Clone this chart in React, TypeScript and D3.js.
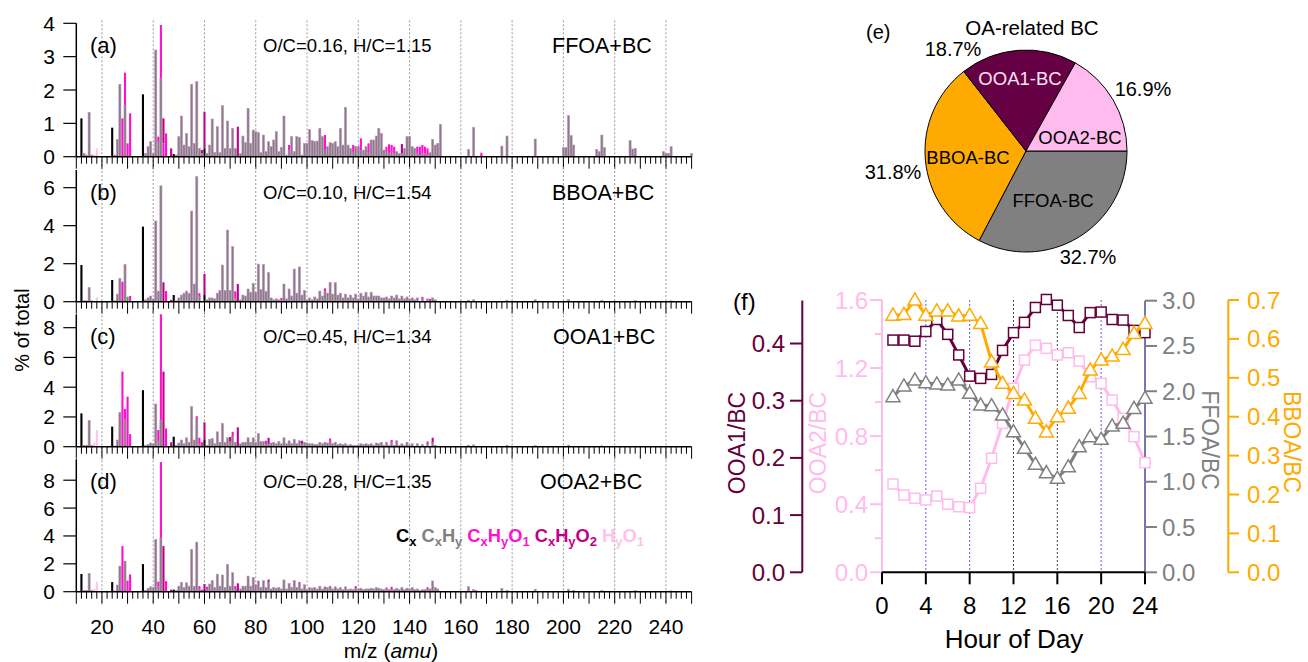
import React from 'react';
import * as d3 from 'd3';

type Pair = [number, number];

// ---------- mass spectra (% of total), [m/z, value] per ion family ----------
const FFOA_CX: Pair[] = [[12, 1.15], [24, 0.87], [36, 1.87], [48, 0.08], [60, 0.23]];
const FFOA_CXHY: Pair[] = [
  [13, 0.1], [14, 0.05], [15, 1.33], [16, 0.05], [25, 0.05], [26, 0.52], [27, 2.17], [29, 1.55], [37, 0.1], [38, 0.3],
  [39, 0.45], [40, 0.1], [41, 3.2], [42, 0.45], [43, 2.35], [49, 0.05], [50, 0.6], [51, 1.22], [52, 0.35], [53, 0.7],
  [54, 0.3], [55, 2.17], [56, 0.4], [57, 2.25], [58, 0.25], [59, 0.1], [61, 0.1], [62, 0.35], [63, 1.13], [64, 0.13],
  [65, 0.9], [66, 0.12], [67, 1.53], [68, 0.25], [69, 1.07], [70, 0.25], [71, 0.85], [72, 0.25], [74, 0.1], [75, 0.62],
  [76, 0.42], [77, 1.45], [78, 0.4], [79, 0.8], [80, 0.75], [81, 0.72], [82, 0.12], [83, 0.65], [84, 0.15], [85, 0.45],
  [86, 0.3], [87, 0.5], [88, 0.75], [89, 0.15], [90, 0.28], [91, 1.22], [92, 0.05], [93, 0.2], [94, 0.6], [95, 0.15],
  [96, 0.6], [97, 0.58], [98, 0.05], [99, 0.4], [100, 0.4], [101, 0.82], [102, 0.48], [103, 0.45], [104, 0.47], [105, 0.85],
  [106, 0.6], [107, 0.2], [108, 0.3], [109, 0.42], [110, 0.4], [111, 0.45], [112, 0.3], [113, 0.85], [114, 0.35], [115, 1.48],
  [116, 0.35], [117, 0.25], [118, 0.15], [119, 0.3], [120, 0.3], [121, 0.2], [122, 0.2], [123, 0.3], [124, 0.15], [125, 0.5],
  [126, 0.5], [127, 0.62], [128, 0.85], [129, 0.7], [130, 0.2], [131, 0.15], [132, 0.12], [133, 0.15], [134, 0.1], [135, 0.15],
  [136, 0.1], [137, 0.1], [138, 0.25], [139, 0.6], [140, 0.6], [141, 0.3], [142, 0.25], [143, 0.1], [144, 0.05], [145, 0.1],
  [146, 0.1], [147, 0.05], [148, 0.12], [149, 0.52], [150, 0.35], [151, 0.4], [152, 0.97], [163, 0.22], [165, 0.88], [176, 0.32],
  [178, 0.62], [189, 0.53], [200, 0.27], [201, 0.27], [202, 1.23], [203, 0.63], [204, 0.35], [213, 0.22], [214, 0.15], [215, 0.65],
  [216, 0.27], [226, 0.48], [227, 0.23], [228, 0.25], [239, 0.15], [240, 0.1], [241, 0.1], [242, 0.3], [250, 0.1],
];
const FFOA_O1: Pair[] = [
  [28, 1.15], [29, 0.97], [30, 0.4], [31, 1.3], [42, 0.15], [43, 1.6], [44, 0.4], [45, 0.7], [93, 0.15], [107, 0.45],
  [118, 0.2], [121, 0.35], [124, 0.25], [131, 0.15], [132, 0.25], [133, 0.2], [134, 0.2], [143, 0.2], [144, 0.25], [145, 0.25],
  [146, 0.2], [147, 0.2], [168, 0.12],
];
const FFOA_O2: Pair[] = [[44, 0.75], [47, 0.25], [59, 0.1], [60, 1.12], [73, 0.9], [137, 0.28]];
const FFOA_HYO1: Pair[] = [[17, 0.07], [18, 0.25]];

const BBOA_CX: Pair[] = [[12, 1.93], [24, 1.14], [36, 3.95], [48, 0.35], [60, 0.35]];
const BBOA_CXHY: Pair[] = [
  [13, 0.05], [14, 0.05], [15, 0.74], [16, 0.05], [25, 0.05], [26, 0.4], [27, 1.23], [29, 1.96], [37, 0.1], [38, 0.2],
  [39, 0.3], [40, 0.15], [41, 4.25], [42, 0.56], [43, 6.1], [49, 0.05], [50, 0.2], [51, 0.35], [52, 0.45], [53, 0.56],
  [54, 0.45], [55, 4.77], [56, 0.93], [57, 6.58], [58, 0.3], [61, 0.1], [62, 0.2], [63, 0.2], [64, 0.15], [65, 0.45],
  [66, 0.6], [67, 1.93], [68, 0.6], [69, 3.77], [70, 0.6], [71, 2.9], [72, 0.2], [74, 0.1], [75, 0.35], [76, 0.3],
  [77, 0.67], [78, 0.5], [79, 0.96], [80, 0.5], [81, 1.98], [82, 0.65], [83, 1.96], [84, 0.55], [85, 1.53], [86, 0.2],
  [87, 0.1], [88, 0.15], [89, 0.1], [90, 0.1], [91, 0.93], [92, 0.15], [93, 0.67], [94, 0.3], [95, 1.72], [96, 0.45],
  [97, 1.83], [98, 0.35], [99, 0.6], [100, 0.1], [101, 0.2], [102, 0.1], [103, 0.25], [104, 0.15], [105, 0.56], [106, 0.3],
  [107, 0.55], [108, 0.45], [109, 1.02], [110, 0.4], [111, 1.0], [112, 0.35], [113, 0.45], [114, 0.2], [115, 0.4], [116, 0.2],
  [117, 0.35], [118, 0.2], [119, 0.4], [120, 0.15], [121, 0.45], [122, 0.3], [123, 0.5], [124, 0.25], [125, 0.5], [126, 0.3],
  [127, 0.3], [128, 0.3], [129, 0.2], [130, 0.2], [131, 0.25], [132, 0.15], [133, 0.3], [134, 0.2], [135, 0.35], [136, 0.15],
  [137, 0.3], [138, 0.15], [139, 0.25], [140, 0.15], [141, 0.2], [142, 0.1], [143, 0.2], [145, 0.15], [147, 0.15], [149, 0.2],
  [150, 0.1], [163, 0.08], [165, 0.1], [178, 0.08], [189, 0.1], [202, 0.12], [215, 0.08], [228, 0.06], [242, 0.05],
];
const BBOA_NX: Pair[] = [[30, 0.26]];
const BBOA_O1: Pair[] = [[28, 1.05], [31, 0.3], [45, 0.56], [58, 0.15], [72, 0.35], [90, 0.1], [107, 0.15], [145, 0.1], [148, 0.15]];
const BBOA_O2: Pair[] = [[44, 1.02], [47, 0.1], [60, 1.11], [73, 0.93]];
const BBOA_HYO1: Pair[] = [[18, 0.23]];

const OOA1_CX: Pair[] = [[12, 2.24], [24, 1.35], [36, 3.8], [48, 0.67], [60, 0.45]];
const OOA1_CXHY: Pair[] = [
  [13, 0.1], [14, 0.1], [15, 1.77], [16, 0.1], [25, 0.05], [26, 0.45], [27, 2.3], [29, 1.84], [37, 0.1], [38, 0.15],
  [39, 0.25], [40, 0.2], [41, 2.87], [42, 0.4], [43, 1.8], [49, 0.1], [50, 0.25], [51, 0.45], [52, 0.2], [53, 0.6],
  [54, 0.3], [55, 2.7], [56, 0.45], [57, 1.9], [58, 0.2], [61, 0.1], [62, 0.5], [63, 0.55], [64, 0.2], [65, 1.0],
  [66, 0.3], [67, 1.57], [68, 0.3], [69, 0.6], [70, 0.35], [71, 0.7], [72, 0.3], [74, 0.2], [75, 0.3], [76, 0.3],
  [77, 0.6], [78, 0.3], [79, 0.6], [80, 0.3], [81, 0.88], [82, 0.35], [83, 0.35], [84, 0.2], [85, 0.2], [86, 0.25],
  [87, 0.3], [88, 0.2], [89, 0.35], [90, 0.2], [91, 0.6], [92, 0.2], [93, 0.4], [94, 0.2], [95, 0.5], [96, 0.2],
  [97, 0.4], [98, 0.2], [99, 0.3], [100, 0.25], [101, 0.2], [102, 0.2], [103, 0.15], [104, 0.15], [105, 0.3], [106, 0.2],
  [107, 0.3], [108, 0.25], [109, 0.35], [110, 0.2], [111, 0.3], [112, 0.15], [113, 0.2], [114, 0.15], [115, 0.2], [116, 0.1],
  [117, 0.15], [118, 0.1], [119, 0.1], [120, 0.1], [121, 0.2], [122, 0.15], [123, 0.2], [124, 0.15], [125, 0.2], [126, 0.1],
  [127, 0.25], [128, 0.2], [129, 0.3], [130, 0.1], [131, 0.3], [132, 0.1], [133, 0.3], [134, 0.1], [135, 0.4], [136, 0.1],
  [137, 0.2], [138, 0.1], [139, 0.3], [140, 0.1], [141, 0.2], [143, 0.2], [145, 0.15], [147, 0.2], [149, 0.3], [150, 0.1],
  [163, 0.1], [165, 0.12], [178, 0.1], [189, 0.08], [202, 0.1], [215, 0.06],
];
const OOA1_O1: Pair[] = [
  [28, 5.05], [29, 0.7], [30, 3.36], [31, 0.85], [42, 0.72], [43, 7.1], [45, 1.23], [57, 0.15], [58, 0.4], [59, 0.3],
  [71, 0.3], [84, 0.2], [109, 0.2], [133, 0.15], [147, 0.15],
];
const OOA1_O2: Pair[] = [[44, 5.05], [47, 0.3], [60, 1.19], [70, 0.3], [73, 1.3], [85, 0.4], [98, 0.2], [149, 0.3]];
const OOA1_HYO1: Pair[] = [[17, 0.27], [18, 1.12]];

const OOA2_CX: Pair[] = [[12, 1.27], [24, 0.69], [36, 1.98], [48, 0.15], [60, 0.15]];
const OOA2_CXHY: Pair[] = [
  [13, 0.1], [14, 0.1], [15, 1.31], [16, 0.1], [25, 0.05], [26, 0.48], [27, 1.84], [29, 2.2], [37, 0.1], [38, 0.25],
  [39, 0.35], [40, 0.3], [41, 3.75], [42, 0.4], [43, 3.87], [49, 0.1], [50, 0.4], [51, 0.67], [52, 0.3], [53, 0.64],
  [54, 0.4], [55, 3.03], [56, 0.4], [57, 3.56], [58, 0.2], [61, 0.2], [62, 0.55], [63, 0.8], [64, 0.3], [65, 1.26],
  [66, 0.4], [67, 1.2], [68, 0.3], [69, 1.96], [70, 0.4], [71, 1.36], [72, 0.2], [74, 0.2], [75, 0.4], [76, 0.4],
  [77, 1.12], [78, 0.4], [79, 1.03], [80, 0.4], [81, 0.77], [82, 0.3], [83, 0.79], [84, 0.3], [85, 0.72], [86, 0.2],
  [87, 0.3], [88, 0.25], [89, 0.3], [90, 0.2], [91, 0.85], [92, 0.2], [93, 0.6], [94, 0.3], [95, 0.8], [96, 0.3],
  [97, 0.6], [98, 0.2], [99, 0.5], [100, 0.15], [101, 0.3], [102, 0.25], [103, 0.3], [104, 0.2], [105, 0.4], [106, 0.2],
  [107, 0.35], [108, 0.3], [109, 0.4], [110, 0.2], [111, 0.35], [112, 0.2], [113, 0.3], [114, 0.15], [115, 0.35], [116, 0.15],
  [117, 0.2], [118, 0.15], [119, 0.25], [120, 0.2], [121, 0.25], [122, 0.15], [123, 0.2], [124, 0.2], [125, 0.25], [126, 0.2],
  [127, 0.3], [128, 0.25], [129, 0.2], [130, 0.15], [131, 0.2], [132, 0.15], [133, 0.2], [134, 0.15], [135, 0.25], [136, 0.15],
  [137, 0.3], [138, 0.15], [139, 0.25], [140, 0.2], [141, 0.3], [142, 0.15], [143, 0.2], [144, 0.1], [145, 0.15], [146, 0.15],
  [147, 0.2], [148, 0.2], [149, 0.77], [150, 0.3], [151, 0.2], [163, 0.36], [165, 0.15], [176, 0.24], [178, 0.1], [189, 0.18],
  [202, 0.18], [204, 0.1], [215, 0.08], [228, 0.08], [242, 0.06],
];
const OOA2_O1: Pair[] = [
  [28, 3.27], [30, 0.79], [31, 1.24], [42, 0.32], [43, 5.43], [45, 0.76], [58, 0.2], [59, 0.15], [61, 0.15], [72, 0.2],
  [80, 0.1], [97, 0.1], [119, 0.15], [131, 0.1], [133, 0.15], [147, 0.12], [166, 0.1],
];
const OOA2_O2: Pair[] = [[44, 3.27], [47, 0.15], [60, 0.4], [73, 0.6], [85, 0.15]];
const OOA2_HYO1: Pair[] = [[17, 0.2], [18, 0.72]];

// ion families, in stacking order (bottom -> top)
const FAMILY_KEYS = ['Cx', 'CxHy', 'CxHyN', 'CxHyO1', 'CxHyO2', 'HyO1'];
const FAMILY_COLORS = ['#000000', '#808080', '#22bb22', '#ff10cc', '#c0008c', '#ffc2ec'];

const MS_TAGS = ['(a)', '(b)', '(c)', '(d)'];
const MS_RATIOS = ['O/C=0.16, H/C=1.15', 'O/C=0.10, H/C=1.54', 'O/C=0.45, H/C=1.34', 'O/C=0.28, H/C=1.35'];
const MS_NAMES = ['FFOA+BC', 'BBOA+BC', 'OOA1+BC', 'OOA2+BC'];
const MS_YMAX = [4, 6.93, 8.9, 9.5];
const MS_YTICKS = [[0, 1, 2, 3, 4], [0, 2, 4, 6], [0, 2, 4, 6, 8], [0, 2, 4, 6, 8]];
const MS_XTICK_LABELS = [20, 40, 60, 80, 100, 120, 140, 160, 180, 200, 220, 240];

// ---------- pie (e) ----------
const PIE_LABELS = ['FFOA-BC', 'BBOA-BC', 'OOA1-BC', 'OOA2-BC'];
const PIE_VALUES = [32.7, 31.8, 18.7, 16.9];
const PIE_COLORS = ['#808080', '#ffaa00', '#660044', '#ffbbee'];

// ---------- diurnal ratios (f) ----------
const HOURS = [1, 2, 3, 4, 5, 6, 7, 8, 9, 10, 11, 12, 13, 14, 15, 16, 17, 18, 19, 20, 21, 22, 23, 24];
const OOA1_BC = [0.406, 0.406, 0.404, 0.421, 0.442, 0.416, 0.38, 0.343, 0.339, 0.346, 0.388, 0.419,
  0.437, 0.463, 0.477, 0.467, 0.449, 0.428, 0.454, 0.455, 0.442, 0.441, 0.423, 0.419];
const OOA2_BC = [0.519, 0.454, 0.435, 0.425, 0.448, 0.4, 0.385, 0.38, 0.494, 0.67, 0.875, 1.081,
  1.247, 1.335, 1.316, 1.277, 1.29, 1.241, 1.149, 1.11, 1.012, 0.905, 0.797, 0.644];
const FFOA_BC = [1.94, 2.058, 2.124, 2.094, 2.08, 2.069, 2.124, 1.977, 1.848, 1.84, 1.737, 1.553,
  1.37, 1.193, 1.1, 1.038, 1.166, 1.387, 1.498, 1.469, 1.616, 1.646, 1.811, 1.922];
const BBOA_BC = [0.661, 0.663, 0.7, 0.661, 0.672, 0.672, 0.659, 0.661, 0.64, 0.541, 0.486, 0.46,
  0.443, 0.396, 0.361, 0.4, 0.422, 0.46, 0.52, 0.546, 0.556, 0.573, 0.614, 0.64];

const FONT = '"Liberation Sans", Arial, Helvetica, sans-serif';

const MS_SERIES: Pair[][][] = [
  [FFOA_CX, FFOA_CXHY, [], FFOA_O1, FFOA_O2, FFOA_HYO1],
  [BBOA_CX, BBOA_CXHY, BBOA_NX, BBOA_O1, BBOA_O2, BBOA_HYO1],
  [OOA1_CX, OOA1_CXHY, [], OOA1_O1, OOA1_O2, OOA1_HYO1],
  [OOA2_CX, OOA2_CXHY, [], OOA2_O1, OOA2_O2, OOA2_HYO1],
];

const xMs = d3.scaleLinear().domain([10, 250]).range([76.3, 691.6]);
const MS_ZERO = [156.7, 301.7, 446.7, 591.7];
const MS_H = [133.4, 131.7, 132.4, 132.4];
const NAME_X = [552, 552, 553, 540];

function MassSpec({ idx }: { idx: number }) {
  const zero = MS_ZERO[idx];
  const top = zero - MS_H[idx];
  const y = d3.scaleLinear().domain([0, MS_YMAX[idx]]).range([zero, top]);
  const byMz = new Map<number, any>();
  MS_SERIES[idx].forEach((arr, k) => {
    arr.forEach(([mz, v]) => {
      if (!byMz.has(mz)) {
        const row: any = { mz };
        FAMILY_KEYS.forEach((f) => (row[f] = 0));
        byMz.set(mz, row);
      }
      byMz.get(mz)[FAMILY_KEYS[k]] += v;
    });
  });
  const rows = Array.from(byMz.values()).sort((a, b) => a.mz - b.mz);
  const stacked = d3.stack<any>().keys(FAMILY_KEYS)(rows);
  const bw = xMs(10.82) - xMs(10);
  const minor = d3.range(10, 251, 2);
  const last = idx === 3;

  return (
    <g>
      {MS_XTICK_LABELS.map((t) => (
        <line key={'g' + t} x1={xMs(t)} x2={xMs(t)} y1={top - 3} y2={zero + 13}
          stroke="#9a9a9a" strokeWidth={1} strokeDasharray="2,2" />
      ))}
      {stacked.map((s, k) => (
        <g key={s.key} fill={FAMILY_COLORS[k]}
          stroke={k === 1 ? '#c68ec0' : 'none'} strokeWidth={0.6}>
          {s.filter((d) => d[1] - d[0] > 0).map((d) => (
            <rect key={d.data.mz} x={xMs(d.data.mz) - bw / 2} width={bw}
              y={y(d[1])} height={y(d[0]) - y(d[1])} />
          ))}
        </g>
      ))}
      <line x1={xMs(10)} x2={xMs(250)} y1={zero} y2={zero} stroke="#000" strokeWidth={1.5} />
      {minor.map((t) => (
        <line key={'t' + t} x1={xMs(t)} x2={xMs(t)} y1={zero} y2={zero + (t % 10 === 0 ? 12 : 7)}
          stroke="#000" strokeWidth={1} />
      ))}
      <line x1={xMs(10)} x2={xMs(10)} y1={top} y2={zero} stroke="#000" strokeWidth={1.5} />
      {MS_YTICKS[idx].map((t) => (
        <g key={'y' + t}>
          <line x1={xMs(10) - 13} x2={xMs(10)} y1={y(t)} y2={y(t)} stroke="#000" strokeWidth={1.2} />
          <text x={55} y={y(t)} textAnchor="end" dominantBaseline="central" fontSize={21}>{t}</text>
        </g>
      ))}
      <text x={90} y={top + 30} fontSize={22}>{MS_TAGS[idx]}</text>
      <text x={263} y={top + 29} fontSize={18.5}>{MS_RATIOS[idx]}</text>
      <text x={NAME_X[idx]} y={top + 30} fontSize={21.5}>{MS_NAMES[idx]}</text>
      {last && MS_XTICK_LABELS.map((t) => (
        <text key={'l' + t} x={xMs(t)} y={626} textAnchor="middle" dominantBaseline="central" fontSize={21}>{t}</text>
      ))}
    </g>
  );
}

const LEGEND: { color: string; parts: [string, boolean][] }[] = [
  { color: FAMILY_COLORS[0], parts: [['C', false], ['x', true]] },
  { color: FAMILY_COLORS[1], parts: [['C', false], ['x', true], ['H', false], ['y', true]] },
  { color: FAMILY_COLORS[3], parts: [['C', false], ['x', true], ['H', false], ['y', true], ['O', false], ['1', true]] },
  { color: FAMILY_COLORS[4], parts: [['C', false], ['x', true], ['H', false], ['y', true], ['O', false], ['2', true]] },
  { color: FAMILY_COLORS[5], parts: [['H', false], ['y', true], ['O', false], ['1', true]] },
];

function Legend() {
  const spans: React.ReactNode[] = [];
  let sub = false;
  LEGEND.forEach((item, i) => {
    if (i > 0) {
      spans.push(<tspan key={'s' + i} dy={sub ? -4.5 : 0} fontSize={18}>{' '}</tspan>);
      sub = false;
    }
    item.parts.forEach(([t, s], j) => {
      const dy = s && !sub ? 4.5 : !s && sub ? -4.5 : 0;
      sub = s;
      spans.push(
        <tspan key={i + '-' + j} fill={item.color} dy={dy} fontSize={s ? 13 : 18.3}>{t}</tspan>
      );
    });
  });
  return <text x={396} y={541.5} fontWeight="bold" style={{ whiteSpace: 'pre' }}>{spans}</text>;
}

// pie geometry
const PIE_CX = 1026;
const PIE_CY = 151;
const PIE_R = 101;
const PIE_NAME_OFF: Pair[] = [[27, 49], [-58, 6], [-6, -73], [54, -14]];
const PIE_PCT_OFF: Pair[] = [[62, 106], [-133, 21], [-73, -102], [117, -62]];
const PIE_NAME_COLORS = ['#000', '#000', '#ffe2f4', '#000'];

function Pie() {
  const arcs = d3.pie<number>().sort(null).startAngle(Math.PI / 2).endAngle(Math.PI / 2 + 2 * Math.PI)(PIE_VALUES);
  const arc = d3.arc<d3.PieArcDatum<number>>().innerRadius(0).outerRadius(PIE_R);
  return (
    <g>
      <text x={866} y={39} fontSize={20}>(e)</text>
      <text x={1032} y={27} textAnchor="middle" dominantBaseline="central" fontSize={20.5}>OA-related BC</text>
      <g transform={`translate(${PIE_CX},${PIE_CY})`}>
        {arcs.map((a, i) => (
          <path key={i} d={arc(a) || ''} fill={PIE_COLORS[i]} stroke="#000" strokeWidth={1} />
        ))}
        {arcs.map((a, i) => (
          <text key={'n' + i} x={PIE_NAME_OFF[i][0]} y={PIE_NAME_OFF[i][1]} textAnchor="middle"
            dominantBaseline="central" fontSize={18.5} fill={PIE_NAME_COLORS[i]}>{PIE_LABELS[i]}</text>
        ))}
        {arcs.map((a, i) => (
          <text key={'p' + i} x={PIE_PCT_OFF[i][0]} y={PIE_PCT_OFF[i][1]} textAnchor="middle"
            dominantBaseline="central" fontSize={20}>{PIE_VALUES[i].toFixed(1)}%</text>
        ))}
      </g>
    </g>
  );
}

// diurnal panel geometry
const F_BOTTOM = 572.3;
const xF = d3.scaleLinear().domain([0, 24]).range([882, 1145]);
const yOOA1 = d3.scaleLinear().domain([0, 0.4752]).range([F_BOTTOM, 300.5]);
const yOOA2 = d3.scaleLinear().domain([0, 1.6]).range([F_BOTTOM, 300]);
const yFFOA = d3.scaleLinear().domain([0, 3]).range([F_BOTTOM, 300.7]);
const yBBOA = d3.scaleLinear().domain([0, 0.7]).range([F_BOTTOM, 300]);
const C_OOA1 = '#66003a';
const C_OOA2 = '#ffbbee';
const C_FFOA = '#808080';
const C_BBOA = '#ffaa00';

function Series({ vals, y, color, shape }: { vals: number[]; y: d3.ScaleLinear<number, number>; color: string; shape: 'sq' | 'tri' }) {
  const line = d3.line<number>().x((_, i) => xF(HOURS[i])).y((v) => y(v));
  const tri = d3.symbol().type(d3.symbolTriangle).size(85)() || '';
  return (
    <g>
      <path d={line(vals) || ''} fill="none" stroke={color} strokeWidth={3} strokeLinejoin="round" />
      {vals.map((v, i) =>
        shape === 'sq' ? (
          <rect key={i} x={xF(HOURS[i]) - 5} y={y(v) - 5} width={10} height={10} fill="#fff" stroke={color} strokeWidth={1.5} />
        ) : (
          <path key={i} d={tri} transform={`translate(${xF(HOURS[i])},${y(v) + 1})`} fill="#fff" stroke={color} strokeWidth={1.5} />
        )
      )}
    </g>
  );
}

function Diurnal() {
  const grid = [4, 8, 12, 16, 20];
  return (
    <g>
      {grid.map((h) => (
        <line key={h} x1={xF(h)} x2={xF(h)} y1={300} y2={F_BOTTOM}
          stroke={h === 12 || h === 16 ? '#444' : '#5a5aff'} strokeWidth={1} strokeDasharray="2,2" />
      ))}
      {/* OOA1 axis (left, outer) */}
      <line x1={802.3} x2={802.3} y1={300.5} y2={F_BOTTOM} stroke={C_OOA1} strokeWidth={2} />
      {[0, 0.1, 0.2, 0.3, 0.4].map((t) => (
        <g key={'o1' + t}>
          <line x1={790} x2={802.3} y1={yOOA1(t)} y2={yOOA1(t)} stroke={C_OOA1} strokeWidth={2} />
          <text x={785} y={yOOA1(t)} textAnchor="end" dominantBaseline="central" fontSize={24} fill={C_OOA1}>{t.toFixed(1)}</text>
        </g>
      ))}
      <text transform={`translate(737,443) rotate(-90)`} textAnchor="middle" dominantBaseline="central" fontSize={23} fill={C_OOA1}>OOA1/BC</text>
      {/* OOA2 axis (left, inner) */}
      <line x1={xF(0)} x2={xF(0)} y1={300} y2={F_BOTTOM} stroke={C_OOA2} strokeWidth={2} />
      {[0, 0.2, 0.4, 0.6, 0.8, 1.0, 1.2, 1.4, 1.6].map((t, i) => (
        <g key={'o2' + t}>
          <line x1={xF(0) - (i % 2 === 0 ? 12 : 7)} x2={xF(0)} y1={yOOA2(t)} y2={yOOA2(t)} stroke={C_OOA2} strokeWidth={2} />
          {i % 2 === 0 && (
            <text x={868} y={yOOA2(t)} textAnchor="end" dominantBaseline="central" fontSize={24} fill={C_OOA2}>{t.toFixed(1)}</text>
          )}
        </g>
      ))}
      <text transform={`translate(818,443) rotate(-90)`} textAnchor="middle" dominantBaseline="central" fontSize={23} fill={C_OOA2}>OOA2/BC</text>
      {/* FFOA axis (right, inner) */}
      <line x1={xF(24)} x2={xF(24)} y1={300.7} y2={F_BOTTOM} stroke="#7676b0" strokeWidth={2} />
      {[0, 0.5, 1, 1.5, 2, 2.5, 3].map((t) => (
        <g key={'ff' + t}>
          <line x1={xF(24)} x2={xF(24) + 12} y1={yFFOA(t)} y2={yFFOA(t)} stroke={C_FFOA} strokeWidth={2} />
          <text x={1162} y={yFFOA(t)} dominantBaseline="central" fontSize={24} fill={C_FFOA}>{t.toFixed(1)}</text>
        </g>
      ))}
      <text transform={`translate(1210,440) rotate(90)`} textAnchor="middle" dominantBaseline="central" fontSize={23} fill={C_FFOA}>FFOA/BC</text>
      {/* BBOA axis (right, outer) */}
      <line x1={1228.3} x2={1228.3} y1={300} y2={F_BOTTOM} stroke={C_BBOA} strokeWidth={2} />
      {[0, 0.1, 0.2, 0.3, 0.4, 0.5, 0.6, 0.7].map((t) => (
        <g key={'bb' + t}>
          <line x1={1228.3} x2={1239} y1={yBBOA(t)} y2={yBBOA(t)} stroke={C_BBOA} strokeWidth={2} />
          <text x={1247} y={yBBOA(t)} dominantBaseline="central" fontSize={24} fill={C_BBOA}>{t.toFixed(1)}</text>
        </g>
      ))}
      <text transform={`translate(1292,442) rotate(90)`} textAnchor="middle" dominantBaseline="central" fontSize={23} fill={C_BBOA}>BBOA/BC</text>
      {/* x axis */}
      <line x1={xF(0)} x2={xF(24)} y1={F_BOTTOM} y2={F_BOTTOM} stroke="#000" strokeWidth={2} />
      {[0, 4, 8, 12, 16, 20, 24].map((h) => (
        <g key={'x' + h}>
          <line x1={xF(h)} x2={xF(h)} y1={F_BOTTOM} y2={F_BOTTOM + 12} stroke="#000" strokeWidth={2} />
          <text x={xF(h)} y={605} textAnchor="middle" dominantBaseline="central" fontSize={24}>{h}</text>
        </g>
      ))}
      <text x={1014} y={639} textAnchor="middle" dominantBaseline="central" fontSize={26}>Hour of Day</text>
      <text x={733} y={310} fontSize={24}>(f)</text>
      <Series vals={OOA2_BC} y={yOOA2} color={C_OOA2} shape="sq" />
      <Series vals={FFOA_BC} y={yFFOA} color={C_FFOA} shape="tri" />
      <Series vals={OOA1_BC} y={yOOA1} color={C_OOA1} shape="sq" />
      <Series vals={BBOA_BC} y={yBBOA} color={C_BBOA} shape="tri" />
    </g>
  );
}

export default function App() {
  return (
    <svg width={1308} height={662} style={{ position: 'absolute', left: 0, top: 0, background: '#fff' }}
      fontFamily={FONT}>
      <rect width={1308} height={662} fill="#fff" />
      {[0, 1, 2, 3].map((i) => <MassSpec key={i} idx={i} />)}
      <Legend />
      <text transform="translate(22,330) rotate(-90)" textAnchor="middle" dominantBaseline="central" fontSize={20}>% of total</text>
      <text x={391} y={650} textAnchor="middle" dominantBaseline="central" fontSize={21}>
        m/z (<tspan fontStyle="italic">amu</tspan>)
      </text>
      <Pie />
      <Diurnal />
    </svg>
  );
}
